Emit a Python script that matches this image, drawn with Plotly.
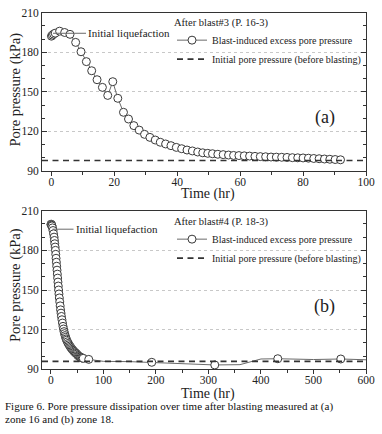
import plotly.graph_objects as go

# ---------------- data ----------------
# (a) After blast#3 (P. 16-3)
time_a = [0, 0.3, 0.7, 1.2, 2.6, 4.2, 5.9, 7.7, 9.4, 11.1, 12.8, 14.5, 16.2, 17.9, 19.5,
          21.1, 22.9, 24.5, 26.2, 27.9, 29.6, 31.3, 33.0, 34.6, 36.3, 38.0, 39.7, 41.4,
          43.1, 44.8, 46.5, 48.1, 49.7, 51.2, 52.9, 54.6, 56.3, 57.9, 59.6, 61.3, 63.0,
          64.7, 66.4, 68.1, 69.8, 71.5, 73.2, 74.9, 76.6, 78.3, 80.0, 81.7, 83.4, 85.1,
          86.8, 88.5, 90.2, 91.9]
pore_a = [192.2, 193, 193.8, 194.5, 196, 195, 193.6, 187.5, 180.4, 172.9, 166, 159.2, 153.4,
          147.3, 157.7, 145.1, 134.5, 129.4, 124.4, 121, 117.8, 115.5, 113.5, 111.8, 110.5,
          109.2, 107.9, 106.9, 105.9, 105.2, 104.4, 103.8, 103.4, 103.1, 102.7, 102.4, 102.1,
          101.8, 101.7, 101.5, 101.3, 101.1, 100.9, 100.8, 100.6, 100.5, 100.4, 100.3, 100.1,
          100.0, 99.9, 99.7, 99.5, 99.3, 99.1, 98.9, 98.7, 98.5]
initial_pore_a = 98

# (b) After blast#4 (P. 18-3) - measured points (markers)
time_b = [0, 0.5, 1, 1.5, 2, 3, 4, 5, 6, 6.7, 7.3, 8, 8.6, 9.2, 9.8, 10.4, 11, 11.6, 12.2,
          12.8, 13.4, 14, 14.6, 15.3, 16, 16.8, 17.6, 18.4, 19.2, 20, 21, 22, 23, 24, 25, 26,
          27, 28, 29, 30, 31.5, 33, 34.5, 36, 37.5, 39, 40.5, 42, 43.5, 45, 46.5, 48, 49.5,
          51, 52.5, 54, 55.5, 57, 58.5, 60, 61.5, 72, 192, 312, 432, 552]
pore_b = [199.5, 199.8, 199.5, 199, 198.5, 197, 195, 192.5, 190, 187.5, 185, 182.5, 180, 177,
          174, 171, 168, 165, 162, 159, 156, 153, 150, 147, 144, 141, 138, 135, 132.5, 130,
          127.5, 125, 122.5, 120.5, 118.5, 117, 115.5, 114.2, 113, 112, 110.8, 109.6, 108.6,
          107.6, 106.7, 105.9, 105.1, 104.4, 103.7, 103.1, 102.5, 102, 101.5, 100.6, 100.1,
          99.7, 99.3, 99, 98.7, 98.5, 98.3, 97.5, 95.3, 93.3, 98, 97.8]
# (b) additional logged readings between measured points (line only)
time_b_log = [100, 150, 250, 360, 400, 500, 600]
pore_b_log = [96, 95.8, 94.4, 93.5, 97.8, 97.4, 97.2]
initial_pore_b = 96

legend_title_a = "After blast#3 (P. 16-3)"
legend_title_b = "After blast#4 (P. 18-3)"
name_excess = "Blast-induced excess pore pressure"
name_initial = "Initial pore pressure (before blasting)"
x_title = "Time (hr)"
y_title = "Pore pressure (kPa)"
caption_1 = "Figure 6. Pore pressure dissipation over time after blasting measured at (a)"
caption_2 = "zone 16 and (b) zone 18."

# merged record for the (b) line
rec_b = sorted(zip(time_b + time_b_log, pore_b + pore_b_log))
line_t_b = [r[0] for r in rec_b]
line_p_b = [r[1] for r in rec_b]

# ---------------- style ----------------
SERIF = "Liberation Serif"
TXT = "#222222"
AX = "#333333"
LINEC = "#6a6a6a"
MK = dict(symbol="circle", size=8, color="white", line=dict(color="#3a3a3a", width=1))
DASH = dict(color="#333333", width=1.6, dash="6px,4.5px")

fig = go.Figure()

# (a) data
fig.add_trace(go.Scatter(x=time_a, y=pore_a, mode="lines+markers", xaxis="x", yaxis="y",
                         line=dict(color=LINEC, width=1), marker=MK, showlegend=False,
                         hoverinfo="skip"))
# (b) data
fig.add_trace(go.Scatter(x=line_t_b, y=line_p_b, mode="lines", xaxis="x2", yaxis="y2",
                         line=dict(color=LINEC, width=1), showlegend=False, hoverinfo="skip"))
fig.add_trace(go.Scatter(x=time_b, y=pore_b, mode="markers", xaxis="x2", yaxis="y2",
                         marker=MK, showlegend=False, hoverinfo="skip"))

# legend proxies (no coordinates)
for leg, xa, ya in (("legend", "x", "y"), ("legend2", "x2", "y2")):
    fig.add_trace(go.Scatter(x=[None], y=[None], mode="lines+markers", name=name_excess,
                             line=dict(color=LINEC, width=1), marker=MK, legend=leg,
                             xaxis=xa, yaxis=ya))
    fig.add_trace(go.Scatter(x=[None], y=[None], mode="lines", name=name_initial,
                             line=DASH, legend=leg, xaxis=xa, yaxis=ya))

# initial pore pressure lines
fig.add_shape(type="line", xref="x domain", yref="y", x0=0, x1=1,
              y0=initial_pore_a, y1=initial_pore_a, line=DASH)
fig.add_shape(type="line", xref="x2 domain", yref="y2", x0=0, x1=1,
              y0=initial_pore_b, y1=initial_pore_b, line=DASH)

W, H = 382, 434
xdom = [42 / W, 366 / W]
ydom_a = [1 - 171 / H, 1 - 12.7 / H]
ydom_b = [1 - 369.3 / H, 1 - 210.7 / H]

tickfont = dict(family=SERIF, size=11.5, color=TXT)


def xax(rng, dt, mdt, anchor):
    return dict(domain=xdom, anchor=anchor, range=rng, dtick=dt, tick0=0, automargin=False,
                ticks="outside", ticklen=4, tickcolor=AX, tickwidth=1, ticklabelstandoff=-4,
                showline=True, linecolor=AX, linewidth=1, mirror=True,
                minor=dict(dtick=mdt, ticks="outside", ticklen=2.5, tickcolor=AX, showgrid=False),
                showgrid=False, zeroline=False, tickfont=tickfont)


def xtop(rng, dt, mdt, over, anchor):
    return dict(overlaying=over, anchor=anchor, side="top", range=rng, dtick=dt, tick0=0,
                automargin=False,
                ticks="inside", ticklen=4, tickcolor=AX, tickwidth=1,
                minor=dict(dtick=mdt, ticks="inside", ticklen=2.5, tickcolor=AX, showgrid=False),
                showticklabels=False, showline=False, showgrid=False, zeroline=False)


def yax(dom, anchor):
    return dict(domain=dom, anchor=anchor, range=[90, 210], dtick=30, tick0=90,
                automargin=False,
                ticks="inside", ticklen=5, tickcolor=AX, tickwidth=1,
                showline=True, linecolor=AX, linewidth=1, mirror="ticks",
                minor=dict(dtick=10, ticks="inside", ticklen=3, tickcolor=AX, showgrid=False),
                showgrid=True, gridcolor="#c8c8c8", gridwidth=1, griddash="dot",
                zeroline=False, tickfont=tickfont)


range_a = [-3, 100]
range_b = [-17, 600]

legfont = dict(family=SERIF, size=10, color=TXT)
legtitle = dict(family=SERIF, size=10.5, color=TXT)

fig.update_layout(
    width=W, height=H, autosize=False,
    margin=dict(l=0, r=0, t=0, b=0, autoexpand=False),
    paper_bgcolor="white", plot_bgcolor="white",
    font=dict(family=SERIF, color=TXT),
    xaxis=xax(range_a, 20, 10, "y"),
    yaxis=yax(ydom_a, "x"),
    xaxis2=xax(range_b, 100, 50, "y2"),
    yaxis2=yax(ydom_b, "x2"),
    xaxis3=xtop(range_a, 20, 10, "x", "y"),
    xaxis4=xtop(range_b, 100, 50, "x2", "y2"),
    legend=dict(x=172 / W, y=1 - 12 / H, xanchor="left", yanchor="top",
                bgcolor="rgba(0,0,0,0)", font=legfont, itemwidth=30,
                title=dict(text=legend_title_a, font=legtitle), tracegroupgap=0),
    legend2=dict(x=172 / W, y=1 - 211 / H, xanchor="left", yanchor="top",
                 bgcolor="rgba(0,0,0,0)", font=legfont, itemwidth=30,
                 title=dict(text=legend_title_b, font=legtitle), tracegroupgap=0),
    showlegend=True,
)

titlefont = dict(family=SERIF, size=14, color=TXT)
annots = [
    dict(x=0.5, y=194.4, xref="x", yref="y", text="Initial liquefaction", showarrow=True,
         arrowhead=0, arrowwidth=1, arrowcolor=LINEC, ax=33, ay=0, xanchor="left",
         font=dict(family=SERIF, size=11, color=TXT)),
    dict(x=3, y=196, xref="x2", yref="y2", text="Initial liquefaction", showarrow=True,
         arrowhead=0, arrowwidth=1, arrowcolor=LINEC, ax=21, ay=0, xanchor="left",
         font=dict(family=SERIF, size=11, color=TXT)),
    dict(x=0.912, y=0.341, xref="x domain", yref="y domain", text="(a)", showarrow=False,
         font=dict(family=SERIF, size=18, color=TXT)),
    dict(x=0.911, y=0.395, xref="x2 domain", yref="y2 domain", text="(b)", showarrow=False,
         font=dict(family=SERIF, size=18, color=TXT)),
    # x-axis titles
    dict(x=0.512, y=1 - 193.5 / H, xref="x domain", yref="paper", yanchor="middle",
         text=x_title, showarrow=False, font=titlefont),
    dict(x=0.512, y=1 - 393.5 / H, xref="x2 domain", yref="paper", yanchor="middle",
         text=x_title, showarrow=False, font=titlefont),
    # y-axis titles
    dict(x=15 / W, y=1 - 89.5 / H, xref="paper", yref="paper", xanchor="center",
         yanchor="middle", textangle=-90, text=y_title, showarrow=False,
         font=dict(family=SERIF, size=14.5, color=TXT)),
    dict(x=15 / W, y=1 - 285 / H, xref="paper", yref="paper", xanchor="center",
         yanchor="middle", textangle=-90, text=y_title, showarrow=False,
         font=dict(family=SERIF, size=14.5, color=TXT)),
    # caption
    dict(x=3 / W, y=1 - 406.5 / H, xref="paper", yref="paper", xanchor="left", yanchor="middle",
         text=caption_1, showarrow=False, font=dict(family=SERIF, size=11, color="#111111")),
    dict(x=3 / W, y=1 - 419.5 / H, xref="paper", yref="paper", xanchor="left", yanchor="middle",
         text=caption_2, showarrow=False, font=dict(family=SERIF, size=11, color="#111111")),
]
fig.update_layout(annotations=annots)

fig.write_html("out.html", config={"displayModeBar": False},
               post_script="document.body.style.margin='0';document.body.style.overflow='hidden';")
